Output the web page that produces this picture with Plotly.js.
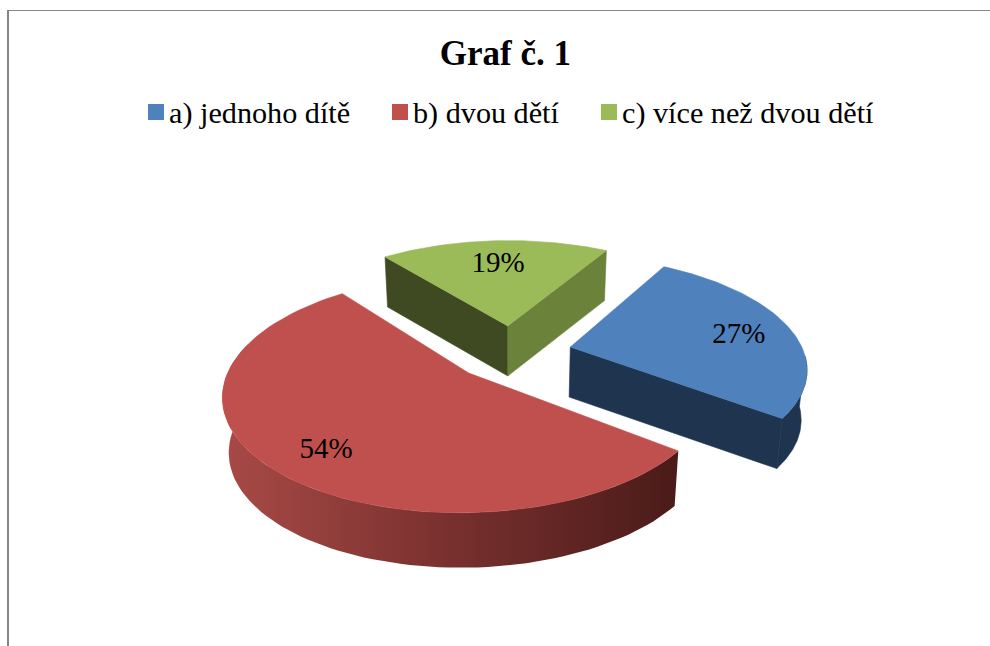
<!DOCTYPE html>
<html><head><meta charset="utf-8">
<script src="https://cdn.plot.ly/plotly-3.0.1.min.js"></script>
<style>html,body{margin:0;padding:0;background:#fff}</style></head>
<body><div id="chart" style="width:990px;height:646px"></div>
<script>
// data
const categories = ['a) jednoho dítě', 'b) dvou dětí', 'c) více než dvou dětí'];
const shares = [27, 54, 19];
const chartTitle = 'Graf č. 1';

// styles
const topColors = ['#4F81BD', '#C0504D', '#9BBB59'];
const serif = '"Liberation Serif","Times New Roman",serif';

// pseudo-3D view
const view = {cx: 512, cy: 352.5, R: 233.5, tilt: 0.463, persp: 0.17, explode: 60, startDeg: 30, taper: 0.0004};
const depths = [50, 55, 50];
const rad = d => d * Math.PI / 180;
function project(deg, r, off, z) {
  const X = r * Math.sin(rad(deg)) + off[0];
  const Y = r * Math.cos(rad(deg)) + off[1];
  const k = 1 / (1 + view.persp * Y / view.R);
  return [view.cx + X * k * (1 + view.taper * z), view.cy - Y * view.tilt * k - z];
}
const total = shares.reduce((a, b) => a + b, 0);
let cursor = view.startDeg;
const wedges = shares.map(v => {
  const a1 = cursor, a2 = cursor + v / total * 360;
  cursor = a2;
  const mid = (a1 + a2) / 2;
  return {a1, a2, mid, off: [view.explode * Math.sin(rad(mid)), view.explode * Math.cos(rad(mid))]};
});
function arc(w, a1, a2, z) {
  const pts = [], n = 80;
  for (let i = 0; i <= n; i++) pts.push(project(a1 + (a2 - a1) * i / n, view.R, w.off, z));
  return pts;
}
function poly(pts, color, name, grad) {
  const t = {type: 'scatter', mode: 'lines', x: pts.map(p => p[0]).concat(pts[0][0]), y: pts.map(p => p[1]).concat(pts[0][1]),
    fill: 'toself', fillcolor: color, line: {width: 0.6, color: color}, hoverinfo: 'skip', showlegend: false, name};
  if (grad) { t.fillgradient = {type: 'horizontal', colorscale: grad}; t.line = {width: 0}; }
  return t;
}
const traces = [];
// green wedge (back)
{
  const w = wedges[2], D = -depths[2], apex = project(0, 0, w.off, 0), apexB = project(0, 0, w.off, D);
  const L = project(w.a1, view.R, w.off, 0), LB = project(w.a1, view.R, w.off, D);
  const Rr = project(w.a2, view.R, w.off, 0), RB = project(w.a2, view.R, w.off, D);
  traces.push(poly([apex, L, LB, apexB], '#3F4A23', categories[2] + ' side'));
  traces.push(poly([apex, Rr, RB, apexB], '#6B823A', categories[2] + ' side'));
  traces.push(poly([apex].concat(arc(w, w.a1, w.a2, 0)), topColors[2], categories[2]));
}
// red wedge
{
  const w = wedges[1], D = -depths[1], apex = project(0, 0, w.off, 0);
  const top = arc(w, w.a1, 285, 0), bot = arc(w, w.a1, 285, D).reverse();
  traces.push(poly(top.concat(bot), '#7d3330', categories[1] + ' side',
    [[0, '#A84A47'], [0.5, '#78302E'], [1, '#4A1B19']]));
  traces.push(poly([apex].concat(arc(w, w.a1, w.a2, 0)), topColors[1], categories[1]));
}
// blue wedge
{
  const w = wedges[0], D = -depths[0], apex = project(0, 0, w.off, 0), apexB = project(0, 0, w.off, D);
  const E = project(w.a2, view.R, w.off, 0), EB = project(w.a2, view.R, w.off, D);
  traces.push(poly([apex, E, EB, apexB], '#1F354F', categories[0] + ' side'));
  const top = arc(w, 95, w.a2, 0), bot = arc(w, 95, w.a2, D).reverse();
  traces.push(poly(top.concat(bot), '#1F354F', categories[0] + ' side'));
  traces.push(poly([apex].concat(arc(w, w.a1, w.a2, 0)), topColors[0], categories[0]));
}
// percent labels
const labelFrac = [0.754, 0.79, 0.69], labelTurn = [3, -4.2, 0];
const labelPts = wedges.map((w, i) => project(w.mid + labelTurn[i], view.R * labelFrac[i], w.off, 0));
traces.push({type: 'scatter', mode: 'text', x: labelPts.map(p => p[0]), y: labelPts.map(p => p[1]),
  text: shares.map(v => v + '%'), textposition: 'middle center',
  textfont: {family: serif, size: 29, color: '#000'}, hoverinfo: 'skip', showlegend: false});
// legend row
const legendX = [156, 400, 609], legendY = 112;
traces.push({type: 'scatter', mode: 'markers', x: legendX, y: legendX.map(() => legendY),
  marker: {symbol: 'square', size: 16, color: topColors}, hoverinfo: 'skip', showlegend: false});
traces.push({type: 'scatter', mode: 'text', x: legendX.map(v => v + 13), y: legendX.map(() => legendY + 3),
  text: categories, textposition: 'middle right',
  textfont: {family: serif, size: 30.2, color: '#000'}, hoverinfo: 'skip', showlegend: false});

const layout = {
  width: 990, height: 646, margin: {l: 0, r: 0, t: 0, b: 0}, showlegend: false,
  paper_bgcolor: '#fff', plot_bgcolor: '#fff',
  title: {text: '<b>' + chartTitle + '</b>', x: 0.5105, xanchor: 'center', y: 0.918, yanchor: 'middle',
    font: {family: serif, size: 35, color: '#000'}},
  xaxis: {range: [0, 990], visible: false, fixedrange: true},
  yaxis: {range: [646, 0], visible: false, fixedrange: true},
  shapes: [
    {type: 'line', xref: 'x', yref: 'y', x0: 8, x1: 990, y0: 10.5, y1: 10.5, line: {color: '#868686', width: 1}},
    {type: 'line', xref: 'x', yref: 'y', x0: 8, x1: 8, y0: 10, y1: 646, line: {color: '#868686', width: 2}}
  ]
};
Plotly.newPlot('chart', traces, layout, {displayModeBar: false, staticPlot: true});
</script></body></html>
